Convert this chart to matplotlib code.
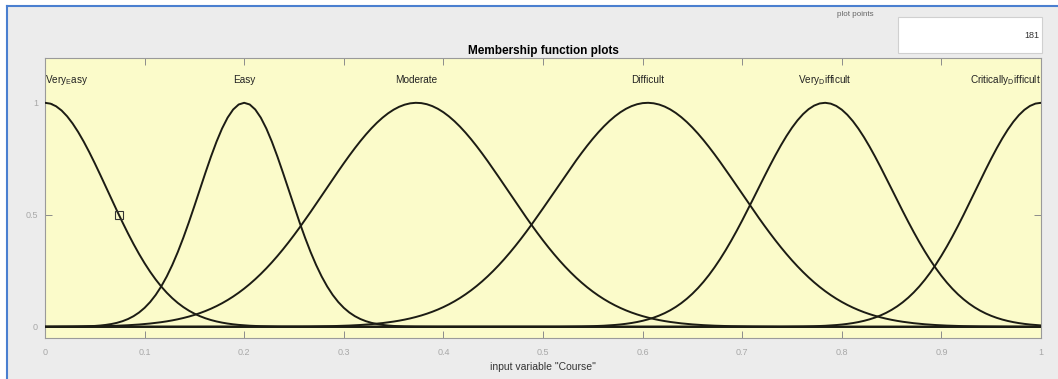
import numpy as np
import matplotlib.pyplot as plt
from matplotlib import patches
from matplotlib.lines import Line2D

plt.rcParams["font.family"] = ["Liberation Sans", "DejaVu Sans"]

# ---------------- membership functions (gaussmf: sigma, center) -------------
mf_names = [
    r"Very$_{\mathregular{E}}$asy",
    "Easy",
    "Moderate",
    "Difficult",
    r"Very$_{\mathregular{D}}$ifficult",
    r"Critically$_{\mathregular{D}}$ifficult",
]
mf_sigma = [0.063, 0.045, 0.092, 0.093, 0.068, 0.066]
mf_center = [0.0, 0.2, 0.373, 0.605, 0.783, 1.0]

n_points = 181
var_name = "Course"
x_ticks = [0, 0.1, 0.2, 0.3, 0.4, 0.5, 0.6, 0.7, 0.8, 0.9, 1]
x_ticklabels = ["0", "0.1", "0.2", "0.3", "0.4", "0.5", "0.6", "0.7", "0.8", "0.9", "1"]
y_ticks = [0, 0.5, 1]
y_ticklabels = ["0", "0.5", "1"]

W, H = 1058, 379
fig = plt.figure(figsize=(W / 100, H / 100), dpi=100, facecolor="white")

# window background + blue frame
fig.add_artist(patches.Rectangle((8 / W, 0), 1, (H - 7) / H, transform=fig.transFigure,
                                 facecolor="#ececec", edgecolor="none", zorder=0))
fig.add_artist(Line2D([7 / W, 1], [(H - 6) / H] * 2, transform=fig.transFigure,
                      color="#4a7fd0", lw=1.5))
fig.add_artist(Line2D([7 / W] * 2, [0, (H - 6) / H], transform=fig.transFigure,
                      color="#4a7fd0", lw=1.5))

ax = fig.add_axes([45 / W, (H - 338) / H, 996 / W, 280 / H])
ax.set_facecolor("#fbfbca")

x = np.linspace(0, 1, n_points)
for name, s, c in zip(mf_names, mf_sigma, mf_center):
    y = np.exp(-((x - c) ** 2) / (2 * s ** 2))
    ax.plot(x, y, color="#1c1c14", lw=1.4, zorder=3)
    if c == 0:
        ha = "left"
    elif c == 1:
        ha = "right"
    else:
        ha = "center"
    ax.text(c, 1.1, name, ha=ha, va="center", fontsize=7.2, color="#222222")

# selection handle on the first curve at half height
hx = mf_sigma[0] * np.sqrt(2 * np.log(2))
ax.plot([hx], [0.5], marker="s", ms=6, mfc="none", mec="#333333", mew=0.8, zorder=4)

ax.set_xlim(0, 1)
ax.set_ylim(-0.05, 1.2)
ax.set_xticks(x_ticks)
ax.set_xticklabels(x_ticklabels)
ax.set_yticks(y_ticks)
ax.set_yticklabels(y_ticklabels)
ax.tick_params(direction="in", length=5, width=0.7, color="#8c8c8c",
               labelsize=6.5, labelcolor="#a8a8a8", top=True, right=True)
ax.tick_params(axis="x", pad=7)
ax.tick_params(axis="y", pad=5)
for sp in ax.spines.values():
    sp.set_color("#9a9a9a")
    sp.set_linewidth(0.8)

ax.set_title("Membership function plots", fontsize=8.5, fontweight="bold", pad=3)
ax.set_xlabel('input variable "%s"' % var_name, fontsize=7.5, color="#333333", labelpad=4)

# plot points box
fig.text(855 / W, (H - 14) / H, "plot points", fontsize=5.8, color="#666666",
         ha="center", va="center")
fig.add_artist(patches.Rectangle((898 / W, (H - 53) / H), 144 / W, 36 / H,
                                 transform=fig.transFigure, facecolor="white",
                                 edgecolor="#d0d0d0", lw=0.8))
fig.text(1039 / W, (H - 35) / H, str(n_points), fontsize=6.5, color="#333333",
         ha="right", va="center")

fig.savefig("out.png", dpi=100)
